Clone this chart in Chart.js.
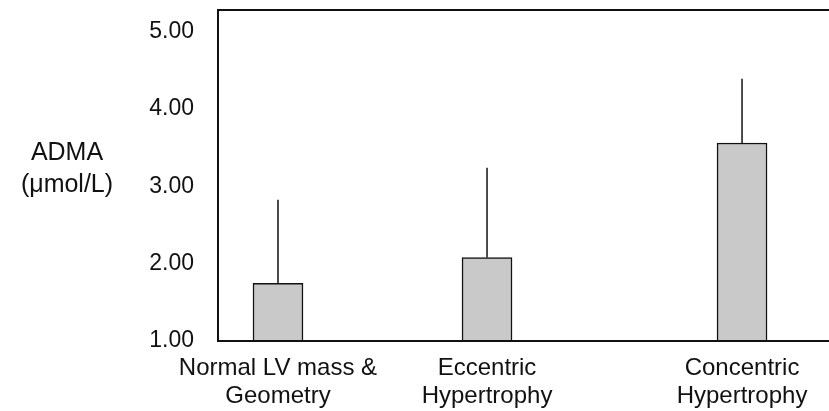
<!DOCTYPE html>
<html>
<head>
<meta charset="utf-8">
<script src="https://cdn.jsdelivr.net/npm/chart.js@4/dist/chart.umd.min.js"></script>
<style>
  html, body { margin: 0; padding: 0; background: #fff; overflow: hidden; }
  #wrap { position: relative; width: 829px; height: 411px; }
  #ytitle {
    position: absolute; left: 0; top: 135px; width: 134px;
    text-align: center; font: 25px "Liberation Sans", Arial, sans-serif;
    line-height: 32px; color: #111;
  }
</style>
</head>
<body>
<div id="wrap">
  <canvas id="chart"></canvas>
  <div id="ytitle">ADMA<br>(μmol/L)</div>
</div>
<script>
// groups
const groupLabels = [['Normal LV mass &', 'Geometry'], ['Eccentric', 'Hypertrophy'], ['Concentric', 'Hypertrophy']];
const groupPos = [1, 2, 3.22];           // groups are not evenly spaced in the original
const meanValues = [1.745, 2.08, 3.56];  // ADMA mean
const sdValues = [1.08, 1.16, 0.83];     // upper error bar (SD)
const yTicks = [1, 2, 3, 4, 5];

const lineColor = '#111';

// frame: left, top and bottom lines (right side falls outside the picture)
const framePlugin = {
  id: 'frame',
  afterDraw(chart) {
    const { ctx, chartArea: a } = chart;
    ctx.save();
    ctx.strokeStyle = lineColor;
    ctx.lineWidth = 2;
    ctx.beginPath();
    ctx.moveTo(a.right + 2, a.top);
    ctx.lineTo(a.left, a.top);
    ctx.lineTo(a.left, a.bottom);
    ctx.lineTo(a.right + 2, a.bottom);
    ctx.stroke();
    ctx.restore();
  }
};

// single upward error line on each bar
const errorBarPlugin = {
  id: 'errorBars',
  afterDatasetsDraw(chart) {
    const { ctx } = chart;
    const y = chart.scales.y;
    const meta = chart.getDatasetMeta(0);
    ctx.save();
    ctx.strokeStyle = lineColor;
    ctx.lineWidth = 1.5;
    meta.data.forEach((bar, i) => {
      ctx.beginPath();
      ctx.moveTo(bar.x, bar.y);
      ctx.lineTo(bar.x, y.getPixelForValue(meanValues[i] + sdValues[i]));
      ctx.stroke();
    });
    ctx.restore();
  }
};

const fontFamily = '"Liberation Sans", Arial, sans-serif';

new Chart(document.getElementById('chart'), {
  type: 'bar',
  data: {
    datasets: [{
      data: groupPos.map((x, i) => ({ x: x, y: meanValues[i] })),
      backgroundColor: '#c9c9c9',
      borderColor: lineColor,
      borderWidth: 1.5,
      borderSkipped: 'bottom',
      barThickness: 50,
      base: 1,
    }]
  },
  options: {
    responsive: true,
    maintainAspectRatio: false,
    animation: false,
    layout: { padding: { top: 10, right: 0, left: 0, bottom: 0 } },
    plugins: {
      legend: { display: false },
      tooltip: { enabled: false },
    },
    scales: {
      x: {
        type: 'linear',
        min: 0.713,
        max: 3.636,
        offset: false,
        grid: { display: false, offset: false, drawTicks: false },
        border: { display: false },
        afterBuildTicks: function(axis) {
          axis.ticks = groupPos.map(v => ({ value: v }));
        },
        afterFit: function(axis) { axis.height = 70; },
        ticks: {
          color: lineColor,
          font: { family: fontFamily, size: 24, lineHeight: 1.17 },
          padding: 13,
          maxRotation: 0,
          autoSkip: false,
          callback: function(value) {
            const i = groupPos.indexOf(value);
            return i >= 0 ? groupLabels[i] : '';
          }
        }
      },
      y: {
        min: 1,
        max: 5.28,
        grid: { display: false, drawTicks: false },
        border: { display: false },
        afterBuildTicks: function(axis) {
          axis.ticks = yTicks.map(v => ({ value: v }));
        },
        afterFit: function(axis) {
          axis.width = 218;
          axis.paddingTop = 0;
          axis.paddingBottom = 0;
        },
        ticks: {
          color: lineColor,
          font: { family: fontFamily, size: 23 },
          padding: 24,
          callback: function(value) { return Number(value).toFixed(2); }
        }
      }
    }
  },
  plugins: [framePlugin, errorBarPlugin]
});
</script>
</body>
</html>
